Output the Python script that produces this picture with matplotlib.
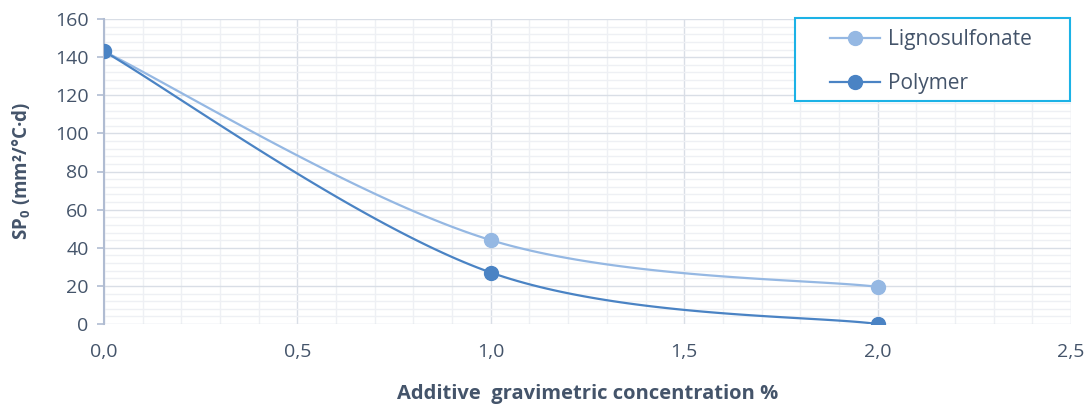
import numpy as np
import matplotlib
matplotlib.use("Agg")
import matplotlib.pyplot as plt
from matplotlib.patches import Rectangle
from matplotlib.ticker import MultipleLocator, FuncFormatter

# ---- data ----
concentration = [0.0, 1.0, 2.0]
lignosulfonate = [143, 44, 19.5]
polymer = [143, 27, 0]
series_names = ["Lignosulfonate", "Polymer"]
x_label = "Additive  gravimetric concentration %"
y_label = r"SP$_\mathbf{0}$ (mm²/°C·d)"

# ---- style ----
c_ligno = "#95b8e3"
c_poly = "#4a83c4"
txt = "#44546a"
plt.rcParams["font.family"] = ["Open Sans", "DejaVu Sans"]
plt.rcParams["mathtext.fontset"] = "custom"
plt.rcParams["mathtext.bf"] = "Open Sans:bold"
plt.rcParams["mathtext.rm"] = "Open Sans"


def smooth(xs, ys, n=60):
    """Excel-like smoothed line (Catmull-Rom via cubic Bezier)."""
    P = np.column_stack([xs, ys]).astype(float)
    out = []
    for i in range(len(P) - 1):
        p0 = P[i - 1] if i > 0 else P[i]
        p1, p2 = P[i], P[i + 1]
        p3 = P[i + 2] if i + 2 < len(P) else P[i + 1]
        c1 = p1 + (p2 - p0) / 6.0
        c2 = p2 - (p3 - p1) / 6.0
        t = np.linspace(0, 1, n)[:, None]
        seg = ((1 - t) ** 3) * p1 + 3 * ((1 - t) ** 2) * t * c1 + 3 * (1 - t) * t ** 2 * c2 + t ** 3 * p2
        out.append(seg if i == 0 else seg[1:])
    s = np.vstack(out)
    return s[:, 0], s[:, 1]


fig = plt.figure(figsize=(10.84, 4.07), dpi=100)
ax = fig.add_axes([104 / 1084, 1 - 324 / 407, (1071 - 104) / 1084, (324 - 19) / 407])

for ys, col, name in [(lignosulfonate, c_ligno, series_names[0]), (polymer, c_poly, series_names[1])]:
    sx, sy = smooth(concentration, ys)
    ax.plot(sx, sy, color=col, lw=1.6, zorder=3, solid_capstyle="round")
    ax.plot(concentration, ys, ls="none", marker="o", ms=10, color=col, mec=col, zorder=4)
    ax.plot([], [], color=col, lw=1.6, marker="o", ms=10, label=name)

ax.set_xlim(0, 2.5)
ax.set_ylim(0, 160)
ax.xaxis.set_major_locator(MultipleLocator(0.5))
ax.xaxis.set_minor_locator(MultipleLocator(0.1))
ax.yaxis.set_major_locator(MultipleLocator(20))
ax.yaxis.set_minor_locator(MultipleLocator(4))
ax.xaxis.set_major_formatter(FuncFormatter(lambda v, p: f"{v:.1f}".replace(".", ",")))

ax.grid(which="major", color="#d9dee6", lw=1.0, zorder=0)
ax.grid(which="minor", color="#eef0f4", lw=1.0, zorder=0)
ax.set_axisbelow(True)

for s in ["top", "right", "bottom"]:
    ax.spines[s].set_visible(False)
ax.spines["left"].set_color("#b0bcd2")
ax.spines["left"].set_linewidth(1.5)

ax.tick_params(axis="y", which="major", length=5, width=1.2, color="#b0bcd2",
               labelsize=14, labelcolor=txt, pad=6)
ax.tick_params(axis="y", which="minor", length=0)
ax.tick_params(axis="x", which="both", length=0, labelsize=14, labelcolor=txt, pad=14)

ax.set_xlabel(x_label, fontsize=14.5, fontweight="bold", color=txt, labelpad=16)
ax.set_ylabel(y_label, fontsize=13.5, fontweight="bold", color=txt)
ax.yaxis.set_label_coords(-71 / 967, 0.5)

# legend box
fig.patches.append(Rectangle((795 / 1084, 1 - 101 / 407), (1070 - 795) / 1084, (101 - 18) / 407,
                             transform=fig.transFigure, fill=True, facecolor="white",
                             edgecolor="#1cb2e6", lw=1.5, zorder=5))
leg = fig.legend(loc="upper left", bbox_to_anchor=(830 / 1084, 1 - 29 / 407), frameon=False,
                 fontsize=15, labelcolor=txt, handlelength=2.4, handletextpad=0.4,
                 labelspacing=1.1, borderpad=0, borderaxespad=0)
leg.set_zorder(6)

fig.savefig("out.png", dpi=100)
